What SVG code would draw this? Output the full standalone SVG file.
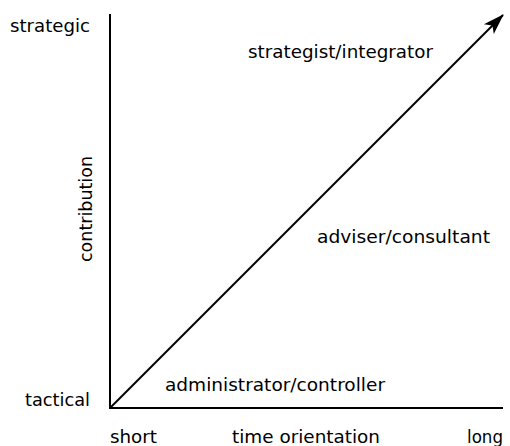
<svg xmlns="http://www.w3.org/2000/svg" width="510" height="446" viewBox="0 0 510 446">
<style>
text{font-family:"DejaVu Sans","Liberation Sans",sans-serif;font-size:18px;fill:#000}
.ax{stroke:#000;stroke-width:2;fill:none}
</style>
<defs>
<marker id="ah" markerWidth="22" markerHeight="16" refX="20" refY="8" orient="auto" markerUnits="userSpaceOnUse" viewBox="0 0 22 16">
<path d="M0,1 L21,8 L0,15 L5,8 z" fill="#000"/>
</marker>
</defs>
<g id="connectors">
<path class="ax" d="M110,14 L110,408 L503,408"/>
<path class="ax" d="M110,408 L503,15" marker-end="url(#ah)"/>
</g>
<g id="labels">
<text x="10" y="32" textLength="80" lengthAdjust="spacingAndGlyphs">strategic</text>
<text x="25" y="406" textLength="65" lengthAdjust="spacingAndGlyphs">tactical</text>
<text x="110" y="443" textLength="47" lengthAdjust="spacingAndGlyphs">short</text>
<text x="232" y="443" textLength="148" lengthAdjust="spacingAndGlyphs">time orientation</text>
<text x="467" y="443" textLength="36" lengthAdjust="spacingAndGlyphs">long</text>
<text transform="translate(92,262) rotate(-90)" textLength="106" lengthAdjust="spacingAndGlyphs">contribution</text>
</g>
<g id="strategist"><text x="248" y="58" textLength="185" lengthAdjust="spacingAndGlyphs">strategist/integrator</text></g>
<g id="adviser"><text x="317" y="243" textLength="173" lengthAdjust="spacingAndGlyphs">adviser/consultant</text></g>
<g id="administrator"><text x="165" y="391" textLength="220" lengthAdjust="spacingAndGlyphs">administrator/controller</text></g>
</svg>
